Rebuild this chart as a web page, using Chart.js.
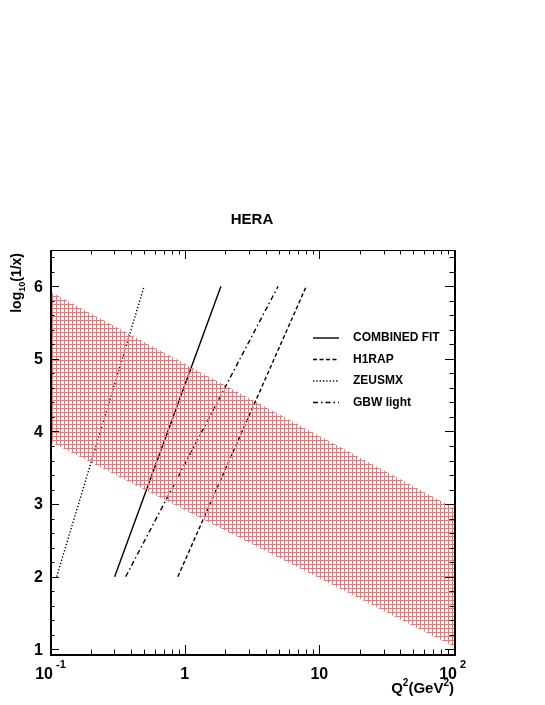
<!DOCTYPE html>
<html>
<head>
<meta charset="utf-8">
<script src="https://cdn.jsdelivr.net/npm/chart.js@4.4.1/dist/chart.umd.min.js"></script>
<style>
  body { margin: 0; background: #fff; }
  #wrap { width: 545px; height: 705px; }
</style>
</head>
<body>
<div id="wrap"><canvas id="chart" width="545" height="705"></canvas></div>
<script>
// band (red hatched area), Q2 at the two edges
const bandQ2 = [0.1, 100];
const bandLow = [3.86, 1.04];
const bandHigh = [5.93, 2.945];

// lines: Q2 at log10(1/x) = 2 and 6
const lineY = [2, 6];
const combinedQ2 = [0.302, 1.86];
const h1rapQ2 = [0.89, 8.0];
const zeusmxQ2 = [0.112, 0.50];
const gbwQ2 = [0.365, 4.94];

const yTickLabels = ["1", "2", "3", "4", "5", "6"];
const xTickLabels = [["10", "-1"], ["1", ""], ["10", ""], ["10", "2"]];
const xTickValues = [0.1, 1, 10, 100];

const FONT = '"Liberation Sans", Arial, sans-serif';

function pts(xs, ys) {
  return xs.map((x, i) => ({ x: x, y: ys[i] }));
}

// hatch pattern
function makeHatch() {
  const c = document.createElement("canvas");
  c.width = 4; c.height = 4;
  const g = c.getContext("2d");
  g.fillStyle = "rgb(255,110,110)";
  g.fillRect(0, 0, 1, 4);
  g.fillRect(0, 0, 4, 1);
  return g.createPattern(c, "repeat");
}
const ctx = document.getElementById("chart").getContext("2d");
const hatch = makeHatch();

const lineSets = [
  { label: "COMBINED FIT", q2: combinedQ2, dash: [] },
  { label: "H1RAP", q2: h1rapQ2, dash: [4, 2.5] },
  { label: "ZEUSMX", q2: zeusmxQ2, dash: [1.3, 2] },
  { label: "GBW light", q2: gbwQ2, dash: [5, 3, 1.5, 3] }
];

// axes, ticks, labels, legend
const decor = {
  id: "decor",
  afterDraw(chart) {
    const g = chart.ctx;
    const a = chart.chartArea;
    const xs = chart.scales.x, ys = chart.scales.y;
    g.save();
    g.strokeStyle = "#000";
    g.fillStyle = "#000";

    // ticks y (both sides)
    g.lineWidth = 1;
    for (let k = 5; k <= 32; k++) {
      const v = k / 5;
      const py = Math.round(ys.getPixelForValue(v)) + 0.5;
      const len = (k % 5 === 0) ? 9 : 4.5;
      g.beginPath();
      g.moveTo(a.left, py); g.lineTo(a.left + len, py);
      g.moveTo(a.right, py); g.lineTo(a.right - len, py);
      g.stroke();
    }
    // ticks x (bottom and top)
    [0.1, 1, 10].forEach(d => {
      for (let k = 1; k <= 9; k++) {
        const px = Math.round(xs.getPixelForValue(k * d)) + 0.5;
        const len = (k === 1) ? 9 : 4.5;
        g.beginPath();
        g.moveTo(px, a.bottom); g.lineTo(px, a.bottom - len);
        g.moveTo(px, a.top); g.lineTo(px, a.top + len);
        g.stroke();
      }
    });

    // frame
    g.lineWidth = 1;
    g.strokeRect(a.left + 0.5, a.top + 0.5, a.right - a.left, a.bottom - a.top);
    g.lineWidth = 2;
    g.beginPath();
    g.moveTo(a.left + 1, a.top); g.lineTo(a.left + 1, a.bottom + 1);
    g.lineTo(a.right + 1, a.bottom + 1); g.lineTo(a.right + 1, a.top);
    g.stroke();

    // y tick labels
    g.font = "bold 16px " + FONT;
    g.textAlign = "right";
    g.textBaseline = "middle";
    yTickLabels.forEach(t => {
      g.fillText(t, 43, ys.getPixelForValue(Number(t)) + 1);
    });

    // x tick labels
    g.textBaseline = "alphabetic";
    xTickValues.forEach((v, i) => {
      const px = xs.getPixelForValue(v);
      const [base, sup] = xTickLabels[i];
      g.font = "bold 16px " + FONT;
      if (sup) {
        g.textAlign = "right";
        g.fillText(base, px + 3, 679);
        g.textAlign = "left";
        g.font = "bold 11px " + FONT;
        g.fillText(sup, px + 6, 668);
      } else {
        g.textAlign = "center";
        g.fillText(base, px, 679);
      }
    });

    // x title Q2(GeV2), right aligned
    const parts = [["Q", 15, 0], ["2", 10, -7], ["(GeV", 15, 0], ["2", 10, -7], [")", 15, 0]];
    let w = 0;
    parts.forEach(p => { g.font = "bold " + p[1] + "px " + FONT; w += g.measureText(p[0]).width; });
    let x = a.right - w;
    g.textAlign = "left";
    parts.forEach(p => {
      g.font = "bold " + p[1] + "px " + FONT;
      g.fillText(p[0], x, 693 + p[2]);
      x += g.measureText(p[0]).width;
    });

    // y title log10(1/x), rotated
    g.save();
    g.translate(21, a.top + 3);
    g.rotate(-Math.PI / 2);
    const yp = [["log", 14, 0], ["10", 9, 4], ["(1/x)", 14, 0]];
    w = 0;
    yp.forEach(p => { g.font = "bold " + p[1] + "px " + FONT; w += g.measureText(p[0]).width; });
    x = -w;
    yp.forEach(p => {
      g.font = "bold " + p[1] + "px " + FONT;
      g.fillText(p[0], x, p[2]);
      x += g.measureText(p[0]).width;
    });
    g.restore();

    // title
    g.font = "bold 15px " + FONT;
    g.textAlign = "center";
    g.fillText("HERA", 252, 224);

    // legend
    lineSets.forEach((s, i) => {
      const ly = 338 + i * 21.5;
      g.lineWidth = 1.4;
      g.setLineDash(s.dash);
      g.beginPath();
      g.moveTo(313, ly); g.lineTo(339, ly);
      g.stroke();
      g.setLineDash([]);
      g.font = "bold 12px " + FONT;
      g.textAlign = "left";
      g.textBaseline = "middle";
      g.fillText(s.label, 353, ly);
    });
    g.restore();
  }
};

const datasets = [
  {
    label: "band low",
    data: pts(bandQ2, bandLow),
    borderWidth: 0,
    pointRadius: 0,
    fill: false
  },
  {
    label: "band high",
    data: pts(bandQ2, bandHigh),
    borderWidth: 0,
    pointRadius: 0,
    backgroundColor: hatch,
    fill: "-1"
  }
];
lineSets.forEach(s => {
  datasets.push({
    label: s.label,
    data: pts(s.q2, lineY),
    borderColor: "#000",
    borderWidth: 1.4,
    borderDash: s.dash,
    pointRadius: 0,
    fill: false
  });
});

new Chart(ctx, {
  type: "line",
  data: { datasets: datasets },
  options: {
    responsive: false,
    animation: false,
    layout: { padding: { left: 50, top: 250, right: 91, bottom: 51 } },
    plugins: { legend: { display: false }, tooltip: { enabled: false } },
    scales: {
      x: { type: "logarithmic", min: 0.1, max: 100, display: false },
      y: { type: "linear", min: 0.935, max: 6.5, display: false }
    }
  },
  plugins: [decor]
});
</script>
</body>
</html>
